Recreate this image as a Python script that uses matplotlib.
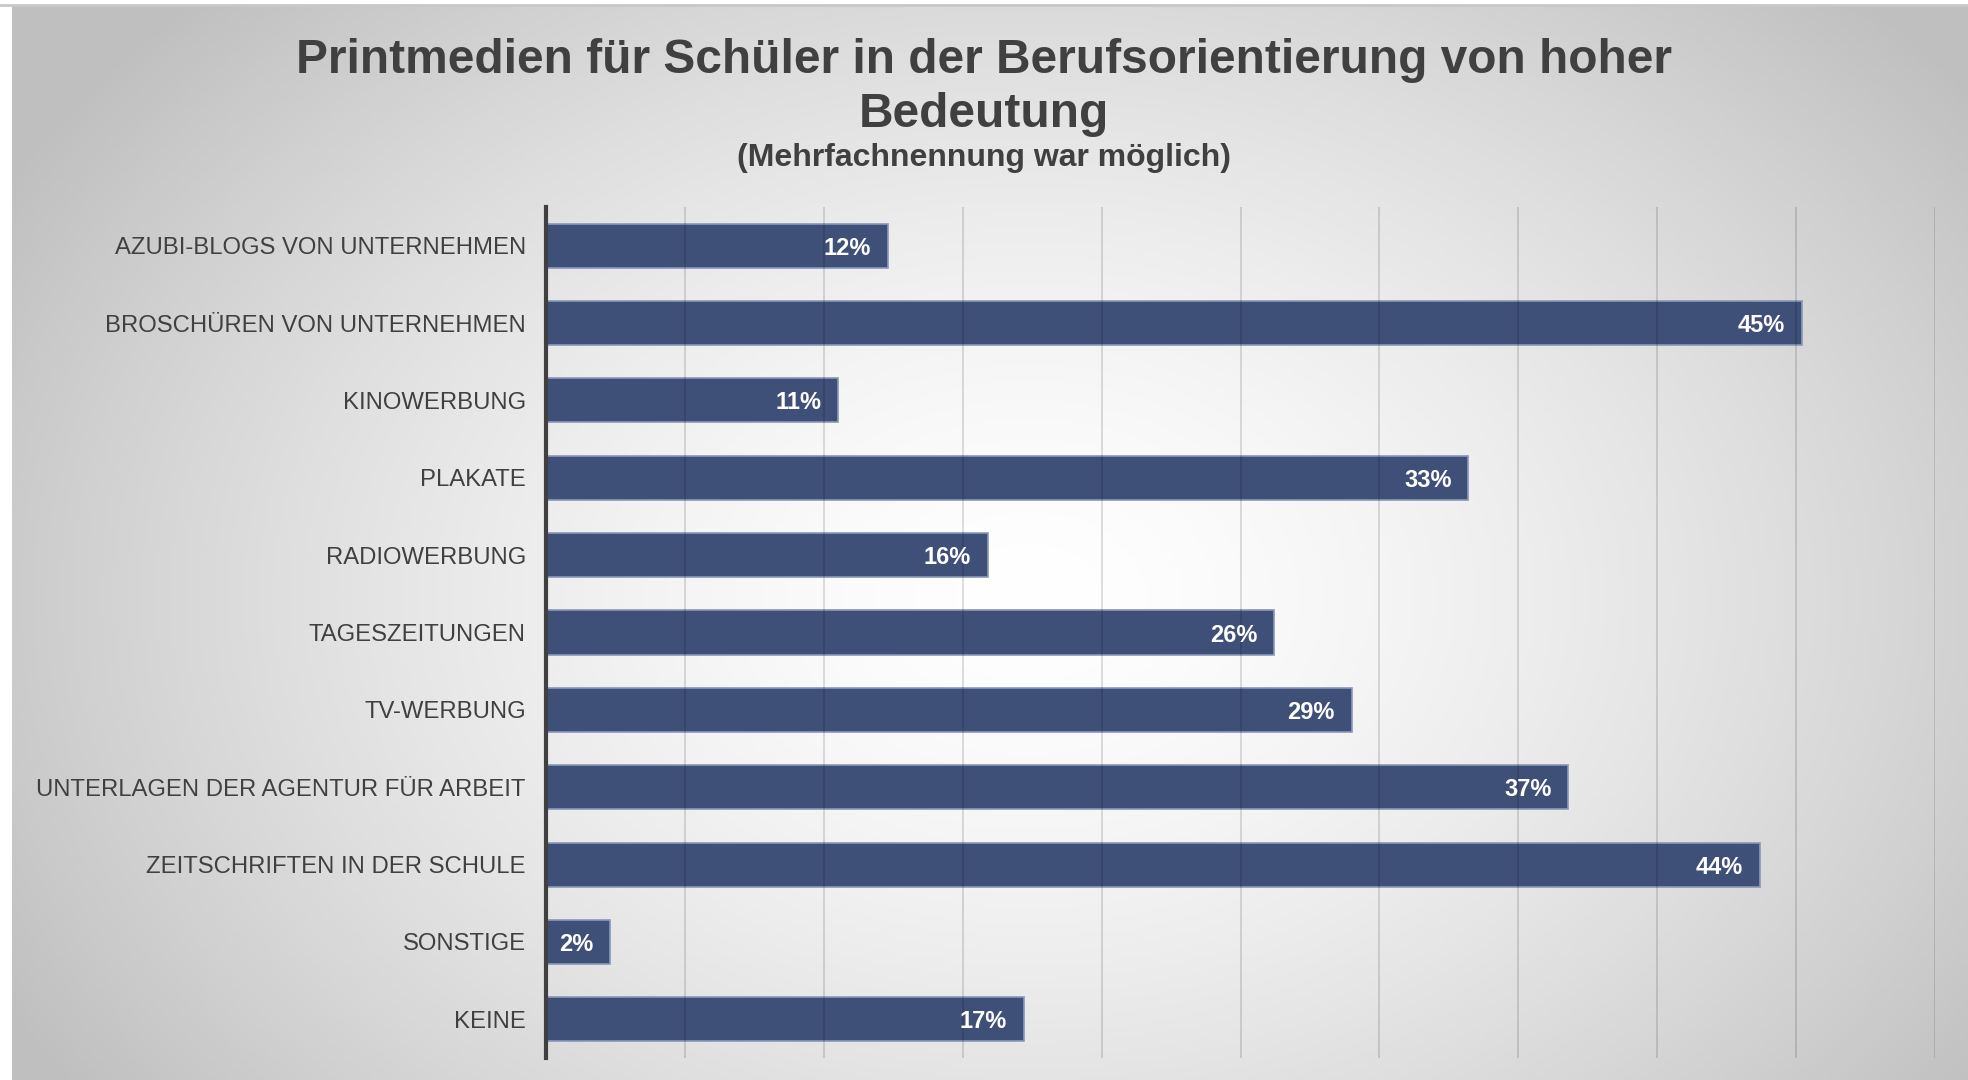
import numpy as np
import matplotlib
matplotlib.use("Agg")
import matplotlib.pyplot as plt

plt.rcParams['font.family'] = ['Liberation Sans', 'DejaVu Sans']

kategorien = [
    "AZUBI-BLOGS VON UNTERNEHMEN",
    "BROSCHÜREN VON UNTERNEHMEN",
    "KINOWERBUNG",
    "PLAKATE",
    "RADIOWERBUNG",
    "TAGESZEITUNGEN",
    "TV-WERBUNG",
    "UNTERLAGEN DER AGENTUR FÜR ARBEIT",
    "ZEITSCHRIFTEN IN DER SCHULE",
    "SONSTIGE",
    "KEINE",
]
werte = [12.3, 45.2, 10.5, 33.2, 15.9, 26.2, 29.0, 36.8, 43.7, 2.3, 17.2]
etiketten = ["12%", "45%", "11%", "33%", "16%", "26%", "29%", "37%", "44%", "2%", "17%"]

titel = "Printmedien für Schüler in der Berufsorientierung von hoher\nBedeutung"
untertitel = "(Mehrfachnennung war möglich)"

fig = plt.figure(figsize=(19.68, 10.8), dpi=100)
fig.patch.set_facecolor('white')

# hintergrund: radialer verlauf
bg = fig.add_axes([12 / 1968, 0, 1 - 12 / 1968, 1 - 6 / 1080])
bg.set_zorder(-10)
ny, nx = 300, 540
yy, xx = np.mgrid[0:1:ny * 1j, 0:1:nx * 1j]
r = np.sqrt(((xx - 0.52) / 0.6) ** 2 + ((yy - 0.55) / 0.8) ** 2)
r = np.clip(r, 0, 1)
g = 1.0 - 0.25 * r ** 1.5
img = np.dstack([g, g, g])
bg.imshow(img, extent=[0, 1, 0, 1], aspect='auto', origin='upper')
bg.set_xlim(0, 1)
bg.set_ylim(0, 1)
bg.axis('off')
fig.add_artist(plt.Line2D([0, 1], [1 - 5 / 1080, 1 - 5 / 1080], color='#c8c8c8', lw=2))

ax = fig.add_axes([546 / 1968, 1 - 1058 / 1080, (1935 - 546) / 1968, (1058 - 207) / 1080])
ax.patch.set_alpha(0)

y = np.arange(len(kategorien))
balken = ax.barh(y, werte, height=0.57, color='#3f5078', edgecolor='#8a98b8', linewidth=1.2, zorder=2)

for yi, w, lab in zip(y, werte, etiketten):
    ax.text(w - 0.6, yi, lab, ha='right', va='center_baseline', color='white',
            fontsize=17, fontweight='bold', zorder=4)

ax.set_xlim(0, 50)
ax.set_ylim(len(kategorien) - 0.5, -0.5)
ax.set_xticks(np.arange(0, 51, 5))
ax.set_xticklabels([])
ax.tick_params(axis='x', length=0)
ax.set_yticks(y)
ax.set_yticklabels(kategorien, fontsize=17.2, color='#404040')
ax.tick_params(axis='y', length=0, pad=14.5)
ax.grid(axis='x', color='black', alpha=0.15, linewidth=1.2, zorder=3)
ax.set_axisbelow(False)
for s in ['top', 'right', 'bottom']:
    ax.spines[s].set_visible(False)
ax.spines['left'].set_color('#404040')
ax.spines['left'].set_linewidth(3)
ax.spines['left'].set_zorder(5)

fig.text(0.5, 1 - 87.5 / 1080, titel, ha='center', va='center', fontsize=34.5,
         fontweight='bold', color='#404040', linespacing=1.27)
fig.text(0.5, 1 - 158 / 1080, untertitel, ha='center', va='center', fontsize=23,
         fontweight='bold', color='#404040')

fig.savefig('out.png', dpi=100)
